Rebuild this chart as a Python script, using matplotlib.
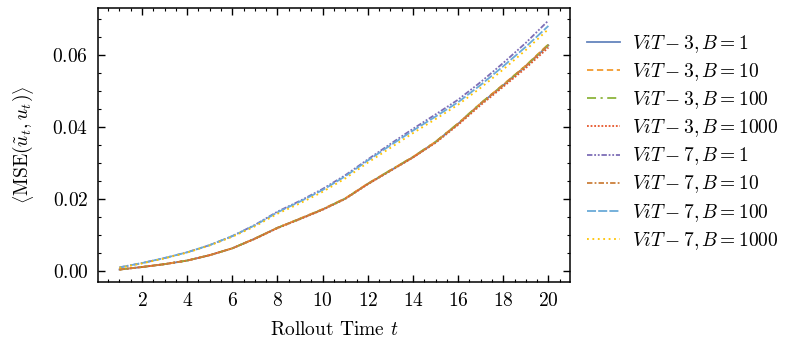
import matplotlib
matplotlib.use("Agg")
import matplotlib.pyplot as plt
from matplotlib.ticker import AutoMinorLocator, MultipleLocator

plt.rcParams.update({
    "font.family": "serif",
    "font.serif": ["cmr10"],
    "mathtext.fontset": "cm",
    "axes.formatter.use_mathtext": True,
    "font.size": 14,
    "axes.linewidth": 1.1,
    "xtick.direction": "in",
    "ytick.direction": "in",
    "xtick.top": True,
    "ytick.right": True,
    "xtick.major.size": 5,
    "ytick.major.size": 5,
    "xtick.minor.size": 2.5,
    "ytick.minor.size": 2.5,
    "xtick.major.width": 1.0,
    "ytick.major.width": 1.0,
    "xtick.minor.width": 0.8,
    "ytick.minor.width": 0.8,
    "xtick.major.pad": 7,
    "ytick.major.pad": 7,
    "xtick.minor.visible": True,
    "ytick.minor.visible": True,
})

t = list(range(1, 21))

vit3_b1 = [0.0005, 0.0012, 0.0020, 0.0030, 0.0045, 0.0064, 0.0091, 0.0121, 0.0146, 0.0172,
           0.0202, 0.0243, 0.0280, 0.0317, 0.0359, 0.0410, 0.0466, 0.0517, 0.0570, 0.0628]
vit3_b10 = [0.0005, 0.0012, 0.0020, 0.0030, 0.0045, 0.0064, 0.0091, 0.0121, 0.0147, 0.0173,
            0.0203, 0.0244, 0.0281, 0.0318, 0.0360, 0.0411, 0.0467, 0.0519, 0.0572, 0.0631]
vit3_b100 = [0.0005, 0.0012, 0.0020, 0.0030, 0.0045, 0.0064, 0.0091, 0.0121, 0.0146, 0.0172,
             0.0202, 0.0243, 0.0281, 0.0318, 0.0360, 0.0411, 0.0467, 0.0518, 0.0571, 0.0630]
vit3_b1000 = [0.0005, 0.0012, 0.0020, 0.0030, 0.0045, 0.0064, 0.0090, 0.0120, 0.0145, 0.0171,
              0.0201, 0.0242, 0.0279, 0.0316, 0.0357, 0.0407, 0.0462, 0.0513, 0.0565, 0.0622]
vit7_b1 = [0.0011, 0.0023, 0.0037, 0.0053, 0.0073, 0.0098, 0.0129, 0.0166, 0.0196, 0.0229,
           0.0267, 0.0311, 0.0354, 0.0396, 0.0436, 0.0477, 0.0526, 0.0579, 0.0635, 0.0697]
vit7_b10 = [0.0005, 0.0012, 0.0020, 0.0030, 0.0045, 0.0064, 0.0091, 0.0121, 0.0146, 0.0172,
            0.0202, 0.0243, 0.0280, 0.0317, 0.0359, 0.0410, 0.0466, 0.0518, 0.0571, 0.0629]
vit7_b100 = [0.0011, 0.0023, 0.0037, 0.0053, 0.0073, 0.0098, 0.0128, 0.0164, 0.0194, 0.0226,
             0.0264, 0.0308, 0.0350, 0.0391, 0.0430, 0.0470, 0.0518, 0.0570, 0.0624, 0.0682]
vit7_b1000 = [0.0010, 0.0022, 0.0036, 0.0052, 0.0072, 0.0096, 0.0125, 0.0160, 0.0189, 0.0221,
              0.0258, 0.0302, 0.0343, 0.0384, 0.0423, 0.0463, 0.0510, 0.0561, 0.0615, 0.0673]

labels = [r"$ViT-3, B=1$", r"$ViT-3, B=10$", r"$ViT-3, B=100$", r"$ViT-3, B=1000$",
          r"$ViT-7, B=1$", r"$ViT-7, B=10$", r"$ViT-7, B=100$", r"$ViT-7, B=1000$"]
series = [vit3_b1, vit3_b10, vit3_b100, vit3_b1000, vit7_b1, vit7_b10, vit7_b100, vit7_b1000]
colors = ["#6585BD", "#F29B2E", "#8CB43C", "#E6552A", "#7D6DB6", "#CC7F3A", "#6AAAD8", "#FFC400"]
styles = ["-", (0, (3.5, 2)), (0, (5, 2.5, 1.2, 2.5)), (0, (1, 1)),
          (0, (3, 1, 1, 1, 1, 1)), (0, (3, 1.2, 1, 1.2)), (0, (5, 1.2)), (0, (1, 2))]

fig = plt.figure(figsize=(7.93, 3.51), dpi=100)
ax = fig.add_axes([0.1236, 0.1966, 0.595, 0.7804])

for y, lab, c, ls in zip(series, labels, colors, styles):
    ax.plot(t, y, color=c, linestyle=ls, linewidth=1.3, label=lab)

ax.xaxis.set_major_locator(MultipleLocator(2))
ax.xaxis.set_minor_locator(AutoMinorLocator(4))
ax.yaxis.set_major_locator(MultipleLocator(0.02))
ax.yaxis.set_minor_locator(AutoMinorLocator(4))
ax.set_xlabel(r"Rollout Time $t$", labelpad=8)
ax.set_ylabel(r"$\left\langle \mathrm{MSE}(\tilde{u}_t, u_t) \right\rangle$", labelpad=12)

ax.legend(loc="center left", bbox_to_anchor=(1.0, 0.51), frameon=False,
          handlelength=1.7, labelspacing=0.32, handletextpad=0.6)

fig.savefig("out.png", dpi=100)
